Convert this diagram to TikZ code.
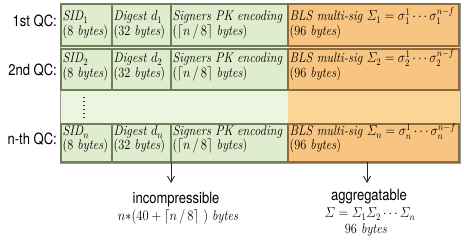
\documentclass[tikz,border=0pt]{standalone}
\usepackage{amsmath}
\usepackage{graphicx}
\usepackage{fontspec}
\newfontfamily\labfont{TeX Gyre Heros}
\usetikzlibrary{arrows.meta}
\definecolor{gbg}{HTML}{EBF5DF}
\definecolor{gcell}{HTML}{DFECCD}
\definecolor{gborder}{HTML}{6E7F5E}
\definecolor{obg}{HTML}{FBD595}
\definecolor{ocell}{HTML}{F7C581}
\definecolor{oborder}{HTML}{8E6B3C}
\newcommand\sqz[1]{\scalebox{0.88}[1]{#1}}
\newcommand\sqs[1]{\scalebox{0.84}[1]{#1}}
% #1 suffix, #2 subscript, #3 top, #4 height, #5 first baseline offset, #6 second baseline offset
\newcommand\qrow[6]{%
  \node[gcellbox, minimum width=51pt, minimum height=#4pt] (s#1) at (61,#3) {};
  \node[gcellbox, minimum width=59pt, minimum height=#4pt] (d#1) at (112,#3) {};
  \node[gcellbox, minimum width=117pt, minimum height=#4pt] (p#1) at (171,#3) {};
  \node[ocellbox, minimum width=171pt, minimum height=#4pt] (b#1) at (288,#3) {};
  \node[celltxt] (s#1a) at ([xshift=1.5pt,yshift=-#5pt]s#1.north west) {\sqz{\textit{SID}$_{#2}$}};
  \node[celltxt] (s#1b) at ([xshift=1.5pt,yshift=-#6pt]s#1.north west) {\sqz{(8 \textit{bytes})}};
  \node[celltxt] (d#1a) at ([xshift=1.5pt,yshift=-#5pt]d#1.north west) {\sqz{\textit{Digest} $d_{#2}$}};
  \node[celltxt] (d#1b) at ([xshift=1.5pt,yshift=-#6pt]d#1.north west) {\sqz{(32 \textit{bytes})}};
  \node[celltxt] (p#1a) at ([xshift=1.5pt,yshift=-#5pt]p#1.north west) {\sqz{\textit{Signers PK encoding}}};
  \node[celltxt] (p#1b) at ([xshift=1.5pt,yshift=-#6pt]p#1.north west) {\sqz{($\lceil n\,/\,8\rceil$ \textit{bytes})}};
  \node[celltxt] (b#1a) at ([xshift=1.5pt,yshift=-#5pt]b#1.north west) {\sqz{\textit{BLS multi-sig} $\varSigma_{#2} = \sigma_{#2}^1 \cdots \sigma_{#2}^{n-f}$}};
  \node[celltxt] (b#1b) at ([xshift=1.5pt,yshift=-#6pt]b#1.north west) {\sqz{(96 \textit{bytes})}};
}
\begin{document}
\begin{tikzpicture}[x=1pt,y=-1pt,
  gcellbox/.style={draw=gborder, line width=1.3pt, fill=gcell, anchor=north west, inner sep=0pt, outer sep=0pt},
  ocellbox/.style={draw=oborder, line width=1.3pt, fill=ocell, anchor=north west, inner sep=0pt, outer sep=0pt},
  celltxt/.style={anchor=base west, inner sep=0pt, font=\fontsize{14}{16}\selectfont},
  ser/.style={anchor=base, inner sep=0pt, font=\fontsize{14}{16}\selectfont},
  lab/.style={anchor=base east, inner sep=0pt, font=\labfont\fontsize{15.5}{18}\selectfont},
  note/.style={anchor=base, inner sep=0pt, font=\labfont\fontsize{15.5}{18}\selectfont},
  arr/.style={draw=black!85, line width=0.9pt, -{Straight Barb[length=6pt,width=7pt]}}]
\useasboundingbox (0,0) rectangle (464,240);
\fill[gbg] (60,3) rectangle (288,163);
\fill[obg] (288,3) rectangle (460,163);
\draw[black!40, line width=0.5pt] (60,3) rectangle (460,163);
\qrow{1}{1}{4}{42}{17}{32}
\qrow{2}{2}{49}{41}{14}{29}
\qrow{n}{n}{124}{38}{12}{26}
\draw[black!80, line width=1.4pt, dash pattern=on 1.2pt off 2.8pt] (84,97) -- (84,119);
\node[lab] (l1) at (57,27) {\sqs{1st QC:}};
\node[lab] (l2) at (57,76) {\sqs{2nd QC:}};
\node[lab] (ln) at (57,145) {\sqs{n-th QC:}};
\node[note] (inc) at (176,204) {\sqs{incompressible}};
\node[ser] (incf) at (178,221) {\sqz{$n{*}(40 + \lceil n\,/\,8\rceil\ )$ \textit{bytes}}};
\node[note] (agg) at (369,201) {\sqs{aggregatable}};
\node[ser] (aggf) at (370,218) {\sqz{$\varSigma = \varSigma_1\varSigma_2\cdots\varSigma_n$}};
\node[ser] (aggb) at (366,234) {\sqz{96 \textit{bytes}}};
\coordinate (t1) at (171,183);
\coordinate (a2) at ([xshift=-6.5pt]bn.south);
\coordinate (t2) at (367,183);
\draw[arr] (dn.south east) -- (t1);
\draw[arr] (a2) -- (t2);
\end{tikzpicture}
\end{document}
